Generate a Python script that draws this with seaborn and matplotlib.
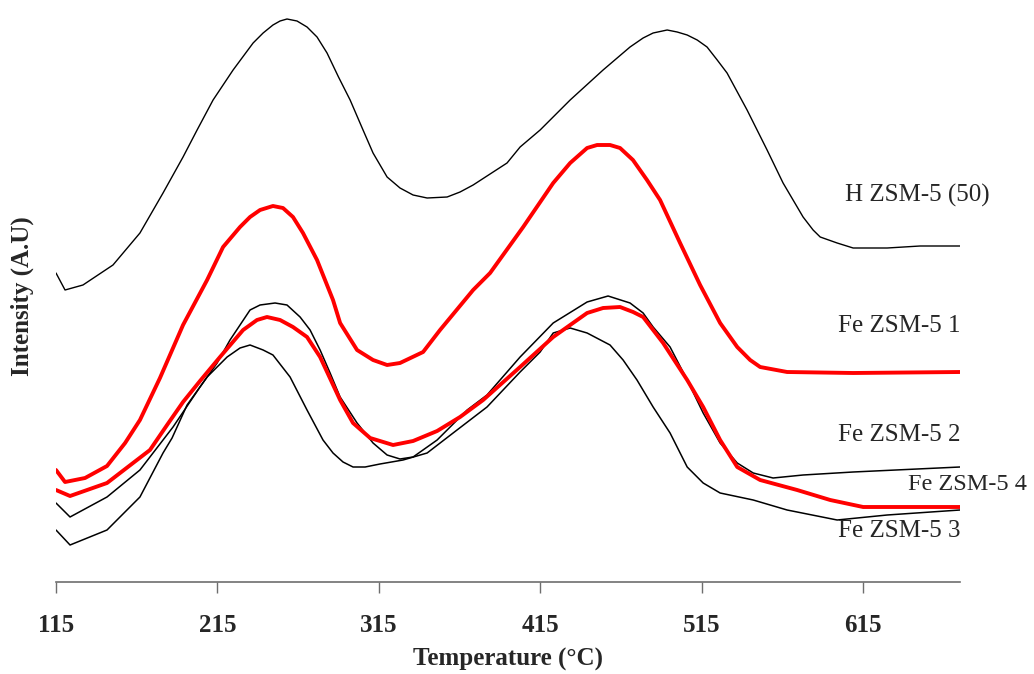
import numpy as np
import pandas as pd
import matplotlib
matplotlib.use("Agg")
import matplotlib.pyplot as plt
import seaborn as sns

# ---- data (temperature in °C, intensity in arbitrary units) ----
h_temp = [115, 120.6, 131.7, 150.3, 167, 181.3, 193.7, 202.4, 212.3, 224.7, 237.1, 243.3,
          249.4, 253.8, 258.1, 264.3, 270.5, 276.7, 282.9, 290, 297.2, 305.2, 311.4, 320.1,
          328.1, 336.2, 344.9, 357.3, 365.3, 373.4, 394.4, 402.5, 414.9, 433.5, 453.9, 470.6,
          478.7, 484.9, 493.6, 499.8, 506, 512.2, 518.3, 524.6, 530.7, 543.1, 555.5, 565.4,
          577.8, 584, 588.4, 598.9, 608.8, 629.9, 650.3, 675]
h_int = [309, 292, 297, 317, 349, 389, 425, 452, 482, 512, 539, 549,
         557, 561, 563, 561, 555, 545, 529, 505, 482, 452, 429, 405,
         394, 387, 384, 385, 390, 397, 419, 435, 452, 482, 512, 535,
         544, 549, 552, 550, 547, 542, 535, 522, 509, 472, 432, 399,
         365, 352, 345, 339, 334, 334, 336, 336]

fe1_temp = [115, 120.6, 133, 146.6, 157.8, 167, 179.4, 193.7, 208.6, 218.5, 229, 235.2, 241.4,
            249.4, 255.6, 261.8, 268, 276.7, 286.6, 291, 301.5, 311.4, 320.1, 328.1, 342.4,
            352.9, 373.4, 383.9, 404.4, 423, 433.5, 444, 450.2, 458.2, 464.4, 472.4, 481.1,
            489.2, 501.6, 514, 526.4, 537, 545, 551.2, 567.9, 608.8, 675]
fe1_int = [112, 100, 104, 116, 139, 162, 204, 257, 302, 335, 355, 365, 372,
           376, 374, 365, 349, 322, 282, 259, 232, 222, 217, 219, 230,
           252, 292, 309, 355, 399, 419, 434, 437, 437, 434, 422, 402,
           382, 339, 297, 259, 235, 222, 215, 210, 209, 210]

fe2_temp = [115, 123.7, 146.6, 167, 187.5, 204.2, 214.8, 222.8, 235.2, 241.4, 250.7, 258.1,
            266.2, 272.4, 278.6, 284.8, 291, 301.5, 311.4, 320.1, 328.1, 336.2, 351.1, 369.7,
            382, 402.5, 423, 444, 457, 470.6, 478.7, 484.9, 495.4, 506, 515.9, 526.4, 537,
            546.9, 559.2, 577.8, 608.8, 675]
fe2_int = [79, 65, 85, 112, 155, 195, 219, 242, 272, 277, 279, 277,
           265, 252, 232, 209, 185, 159, 139, 127, 123, 125, 142, 172,
           187, 225, 259, 280, 286, 279, 269, 255, 235, 202, 169, 139, 119,
           109, 104, 107, 110, 115]

fe3_temp = [115, 123.7, 146.6, 167, 181.3, 186.9, 196.2, 208.6, 221, 229, 235.2, 243.3, 249.4,
            260, 270.5, 280.4, 286.6, 292.8, 299, 306.5, 315.7, 330, 344.9, 361, 382, 402.5,
            414.9, 423, 433.5, 444, 458.2, 466.3, 474.9, 484.9, 495.4, 506, 515.9, 526.4,
            546.9, 567.9, 598.9, 629.9, 675]
fe3_int = [52, 37, 52, 85, 129, 144, 177, 205, 225, 234, 237, 232, 227,
           205, 172, 142, 129, 120, 115, 115, 118, 122, 129, 149, 175, 210,
           230, 249, 254, 249, 237, 222, 202, 175, 149, 115, 99, 89,
           82, 72, 62, 67, 72]

fe4_temp = [115, 123.7, 146.6, 173.2, 183.8, 193.7, 204.2, 216.6, 230.9, 239.5, 245.7, 253.8,
            261.8, 270.5, 278.6, 291, 299, 309.6, 323.8, 336.2, 351.1, 365.3, 379.6, 402.5,
            423, 444, 453.9, 464.4, 472.5, 478.7, 491.1, 506, 515.9, 526.4, 537, 551.2, 574.1,
            594.6, 615, 675]
fe4_int = [92, 86, 99, 132, 157, 180, 201, 225, 252, 262, 265, 262,
           255, 245, 225, 182, 159, 144, 137, 141, 151, 165, 182, 215,
           245, 269, 274, 275, 270, 265, 239, 202, 175, 142, 115, 102, 92,
           82, 75, 75]

series_names = ["H ZSM-5 (50)", "Fe ZSM-5 1", "Fe ZSM-5 2", "Fe ZSM-5 3", "Fe ZSM-5 4"]
x_ticks = [115, 215, 315, 415, 515, 615]

frames = []
for name, t, v in zip(series_names,
                      [h_temp, fe1_temp, fe2_temp, fe3_temp, fe4_temp],
                      [h_int, fe1_int, fe2_int, fe3_int, fe4_int]):
    frames.append(pd.DataFrame({"Temperature": t, "Intensity": v, "Sample": name}))
df = pd.concat(frames, ignore_index=True)

sns.set_theme(style="white")
plt.rcParams["font.family"] = ["Liberation Serif", "DejaVu Serif"]

fig = plt.figure(figsize=(10.34, 6.74), dpi=100)
ax = fig.add_axes([56 / 1034, 1 - 582 / 674, (960 - 56) / 1034, (582 - 10) / 674])

styles = {
    "H ZSM-5 (50)": ("black", 1.0),
    "Fe ZSM-5 1": ("#ff0000", 2.8),
    "Fe ZSM-5 2": ("black", 1.1),
    "Fe ZSM-5 3": ("black", 1.1),
    "Fe ZSM-5 4": ("#ff0000", 2.8),
}
for name in series_names:
    sub = df[df["Sample"] == name]
    c, lw = styles[name]
    sns.lineplot(data=sub, x="Temperature", y="Intensity", ax=ax, color=c,
                 linewidth=lw, sort=False, estimator=None, legend=False,
                 solid_joinstyle="round", solid_capstyle="round")

ax.set_xlim(115, 675)
ax.set_ylim(0, 572)
ax.set_xticks(x_ticks)
ax.set_xticklabels([str(t) for t in x_ticks], fontsize=18, fontweight="bold")
ax.set_yticks([])
for s in ["top", "right", "left"]:
    ax.spines[s].set_visible(False)
ax.spines["bottom"].set_color("#6e6e6e")
ax.spines["bottom"].set_linewidth(1.2)
ax.tick_params(axis="x", direction="out", length=8, width=1.0, color="#6e6e6e",
               pad=15, bottom=True)
ax.set_xlabel("Temperature (°C)", fontsize=18, fontweight="bold", labelpad=8)
ax.set_ylabel("Intensity (A.U)", fontsize=18, fontweight="bold", labelpad=16)

# series labels
ax.text(604, 387, "H ZSM-5 (50)", fontsize=18, ha="left", va="center")
ax.text(675, 256, "Fe ZSM-5 1", fontsize=18, ha="right", va="center")
ax.text(675, 147, "Fe ZSM-5 2", fontsize=18, ha="right", va="center")
ax.text(642.5, 98, "Fe ZSM-5 4", fontsize=17.5, ha="left", va="center", clip_on=False)
ax.text(675, 51, "Fe ZSM-5 3", fontsize=18, ha="right", va="center")

fig.savefig("out.png", dpi=100)
